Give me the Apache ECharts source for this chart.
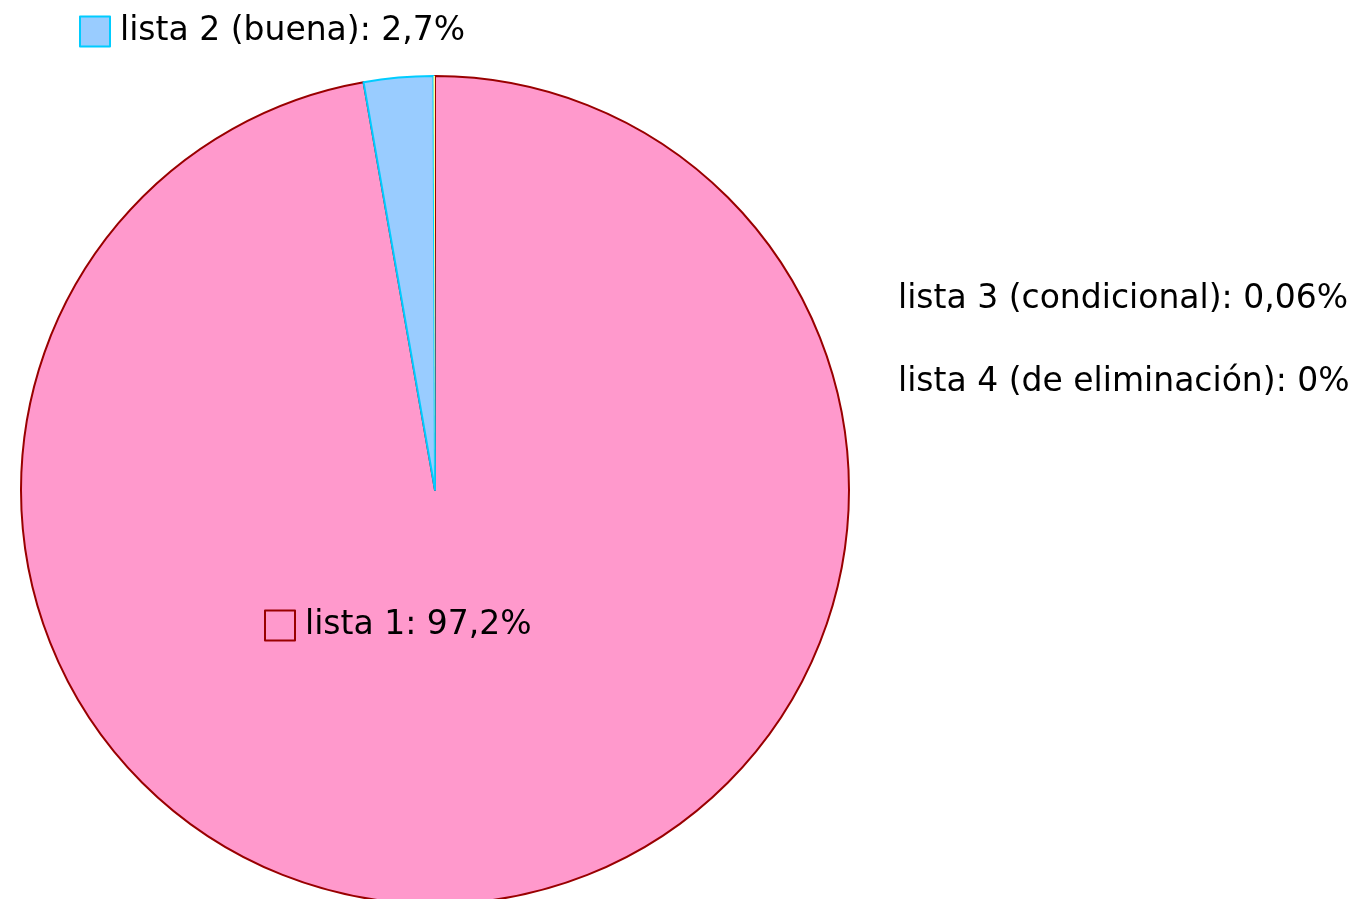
<!DOCTYPE html>
<html>
<head>
<meta charset="utf-8">
<script src="https://cdn.jsdelivr.net/npm/echarts@6/dist/echarts.min.js"></script>
<style>html,body{margin:0;padding:0;background:#fff}#c{width:1361px;height:899px}</style>
</head>
<body>
<div id="c"></div>
<script>
const categories = ['lista 1', 'lista 2 (buena)', 'lista 3 (condicional)', 'lista 4 (de eliminación)'];
const values = [97.2, 2.7, 0.06, 0];
const valueLabels = ['97,2%', '2,7%', '0,06%', '0%'];
const fills = ['#ff99cc', '#99ccff', '#ffff99', '#ccffcc'];
const borders = ['#990000', '#00ccff', '#ffff99', '#ccffcc'];
const borderWidths = [2, 2, 0, 0];

const FONT = 'DejaVu Sans';
const FS = 33;
const fmt = name => name + ': ' + valueLabels[categories.indexOf(name)];

const chart = echarts.init(document.getElementById('c'), null, {renderer: 'canvas'});
const baseLegend = {
  orient: 'vertical', padding: 0, selectedMode: false,
  itemWidth: 30, itemHeight: 30, icon: 'rect',
  formatter: fmt,
  textStyle: {fontFamily: FONT, fontSize: FS, lineHeight: 30, color: '#000', padding: [0, 0, 0, 5]}
};
chart.setOption({
  animation: false,
  backgroundColor: '#ffffff',
  legend: [
    Object.assign({}, baseLegend, {
      left: 79, top: 15,
      data: [{name: categories[1], itemStyle: {color: fills[1], borderColor: borders[1], borderWidth: 2}}]
    }),
    Object.assign({}, baseLegend, {
      left: 264, top: 609,
      data: [{name: categories[0], itemStyle: {color: fills[0], borderColor: borders[0], borderWidth: 2}}]
    }),
    Object.assign({}, baseLegend, {
      left: 888, top: 283, itemGap: 50, icon: 'none', itemWidth: 0,
      data: [categories[2], categories[3]]
    })
  ],
  series: [{
    type: 'pie',
    center: [435, 490],
    radius: [0, 414],
    startAngle: 90,
    clockwise: true,
    minAngle: 0,
    avoidLabelOverlap: false,
    label: {show: false},
    labelLine: {show: false},
    emphasis: {disabled: true},
    data: categories.map((n, i) => ({
      name: n, value: values[i],
      itemStyle: {color: fills[i], borderColor: borders[i], borderWidth: borderWidths[i]}
    }))
  }]
});
</script>
</body>
</html>
